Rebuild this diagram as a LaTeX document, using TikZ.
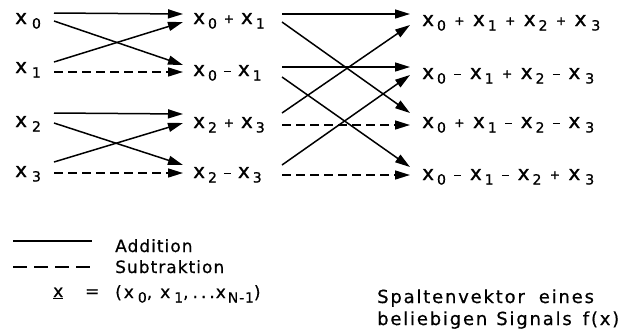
\documentclass[tikz,border=0pt]{standalone}
\usepackage{fontspec}
\setmainfont{DejaVu Sans}
\usetikzlibrary{arrows.meta}
\newcommand{\xsub}[2][3pt]{x\hspace{#1}\raisebox{-4.5pt}{\fontsize{14}{14}\selectfont #2}}
\newcommand{\opplus}[1][7pt]{\hspace{#1}\raisebox{1pt}{\fontsize{12}{12}\selectfont +}\hspace{#1}}
\newcommand{\opminus}[1][7pt]{\hspace{#1}\rule[4pt]{7pt}{1.4pt}\hspace{#1}}
\begin{document}
\begin{tikzpicture}[x=1pt,y=-1pt,
  lbl/.style={anchor=base west,inner sep=0pt,font=\fontsize{20}{20}\selectfont\addfontfeatures{FakeBold=1}},
  leg/.style={anchor=base west,inner sep=0pt,font=\fontsize{17}{17}\selectfont\addfontfeatures{LetterSpace=6,FakeBold=0.6}},
  note/.style={anchor=base west,inner sep=0pt,font=\fontsize{18}{18}\selectfont\addfontfeatures{LetterSpace=10,FakeBold=0.6}},
  add/.style={line width=1.5pt,-{Triangle[length=15pt,width=9pt]}},
  sub/.style={add,dash pattern=on 9pt off 5pt},
]
\useasboundingbox (0,0) rectangle (637,333);
% column 1
\node[lbl] (a0) at (15,24) {\xsub[5pt]{0}};
\node[lbl] (a1) at (15,73) {\xsub[5pt]{1}};
\node[lbl] (a2) at (15,127) {\xsub[5pt]{2}};
\node[lbl] (a3) at (15,177) {\xsub[5pt]{3}};
% column 2
\node[lbl] (b0) at (193,24) {\xsub{0}\opplus\xsub{1}};
\node[lbl] (b1) at (193,76) {\xsub{0}\opminus\xsub{1}};
\node[lbl] (b2) at (193,128) {\xsub{2}\opplus\xsub{3}};
\node[lbl] (b3) at (193,178) {\xsub{2}\opminus\xsub{3}};
% column 3
\node[lbl] (c0) at (422,26) {\xsub{0}\opplus[8.5pt]\xsub{1}\opplus[8.5pt]\xsub{2}\opplus[8.5pt]\xsub[5pt]{3}};
\node[lbl] (c1) at (422,79) {\xsub{0}\opminus[8.5pt]\xsub{1}\opplus[8.5pt]\xsub{2}\opminus[8.5pt]\xsub[5pt]{3}};
\node[lbl] (c2) at (422,128) {\xsub{0}\opplus[8.5pt]\xsub{1}\opminus[8.5pt]\xsub{2}\opminus[8.5pt]\xsub[5pt]{3}};
\node[lbl] (c3) at (422,180) {\xsub{0}\opminus[8.5pt]\xsub{1}\opminus[8.5pt]\xsub{2}\opplus[8.5pt]\xsub[5pt]{3}};
% ports column 1
\coordinate (a0p) at (54,13);  \coordinate (a0q) at (54,21);
\coordinate (a1p) at (54,62);  \coordinate (a1q) at (54,72);
\coordinate (a2p) at (54,113); \coordinate (a2q) at (54,123);
\coordinate (a3p) at (54,162); \coordinate (a3q) at (54,173);
% ports column 2 in
\coordinate (b0i) at (183,14);  \coordinate (b0j) at (183,22);
\coordinate (b1i) at (183,65);  \coordinate (b1j) at (183,72);
\coordinate (b2i) at (183,114); \coordinate (b2j) at (183,123);
\coordinate (b3i) at (183,165); \coordinate (b3j) at (183,173);
% ports column 2 out
\coordinate (b0p) at (282,14);  \coordinate (b0q) at (282,22);
\coordinate (b1p) at (282,67);  \coordinate (b1q) at (282,77);
\coordinate (b2p) at (282,113); \coordinate (b2q) at (282,125);
\coordinate (b3p) at (282,165); \coordinate (b3q) at (282,175);
% ports column 3 in
\coordinate (c0i) at (410,14);  \coordinate (c0j) at (410,25);
\coordinate (c1i) at (410,67);  \coordinate (c1j) at (410,75);
\coordinate (c2i) at (410,113); \coordinate (c2j) at (410,125);
\coordinate (c3i) at (410,167); \coordinate (c3j) at (410,175);
% stage 1
\draw[add] (a0p) -- (b0i);
\draw[add] (a0q) -- (b1i);
\draw[add] (a1p) -- (b0j);
\draw[sub] (a1q) -- (b1j);
\draw[add] (a2p) -- (b2i);
\draw[add] (a2q) -- (b3i);
\draw[add] (a3p) -- (b2j);
\draw[sub] (a3q) -- (b3j);
% stage 2
\draw[add] (b0p) -- (c0i);
\draw[add] (b0q) -- (c2i);
\draw[add] (b1p) -- (c1i);
\draw[add] (b1q) -- (c3i);
\draw[add] (b2p) -- (c0j);
\draw[sub] (b2q) -- (c2j);
\draw[add] (b3p) -- (c1j);
\draw[sub] (b3q) -- (c3j);
% legend
\coordinate (l1a) at (13,241); \coordinate (l1b) at (92,241);
\coordinate (l2a) at (13,267); \coordinate (l2b) at (92,267);
\draw[line width=1.5pt] (l1a) -- (l1b);
\draw[line width=1.5pt,dash pattern=on 14pt off 7pt] (l2a) -- (l2b);
\node[leg] (tadd) at (115,252) {Addition};
\node[leg] (tsub) at (115,273) {Subtraktion};
\node[leg] (tx) at (53,297) {\underline{x}};
\node[leg] (teq) at (85,297) {=};
\node[leg] (tvec) at (115,298) {(\hspace{2pt}\xsub[4pt]{0},\hspace{8pt}\xsub[4pt]{1},\hspace{4pt}.\hspace{3pt}.\hspace{3pt}.\hspace{1pt}\xsub[2pt]{N-1})};
\node[note] (ts1) at (377,303) {Spaltenvektor\hspace{14pt}eines};
\node[note] (ts2) at (377,325) {beliebigen\hspace{9pt}Signals\hspace{11pt}f(x)};
\end{tikzpicture}
\end{document}
